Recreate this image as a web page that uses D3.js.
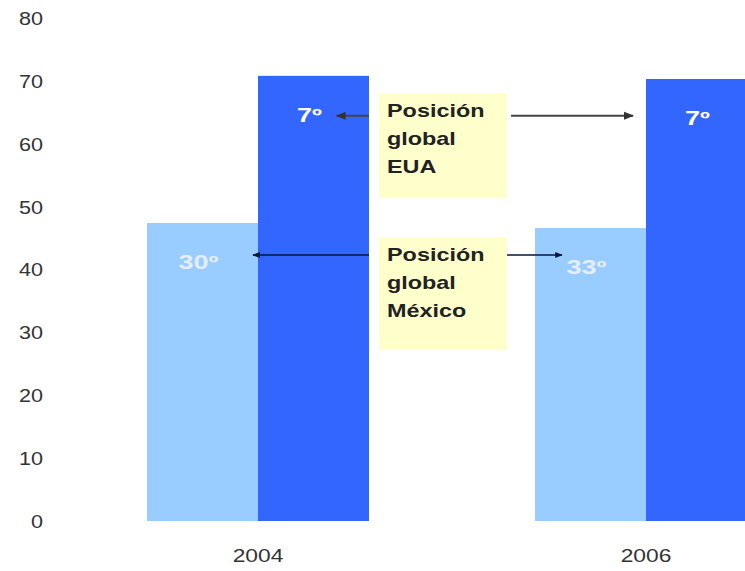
<!DOCTYPE html>
<html>
<head>
<meta charset="utf-8">
<script src="https://cdn.jsdelivr.net/npm/d3@7"></script>
<style>
  body { margin: 0; background: #fff; }
  svg { display: block; font-family: "Liberation Sans", Arial, sans-serif; }
</style>
</head>
<body>
<svg></svg>
<script>
// chart data
let years = ["2004", "2006"]
let series = ["México", "EUA"]
let mexicoValues = [47.4, 46.6]
let euaValues = [70.8, 70.3]
let rankLabels = [["30º", "7º"], ["33º", "7º"]]
let yTicks = [0, 10, 20, 30, 40, 50, 60, 70, 80]
let boxLines = [["Posición", "global", "EUA"], ["Posición", "global", "México"]]

let width = 745
let height = 571
let colors = ["#99ccff", "#3366ff"]

let svg = d3.select('svg').attr('width', width).attr('height', height)

let yScale = d3.scaleLinear().domain([0, 80]).range([521, 18])
let xScale = d3.scalePoint().domain(years).range([258, 646]) // centre of each year group
let inner = d3.scaleBand().domain(series).range([-111, 111])

// y tick labels only, no axis line
let yAxis = d3.axisLeft(yScale).tickValues(yTicks).tickSize(0).tickPadding(0)
let gy = svg.append('g').attr('transform', 'translate(43,0)').call(yAxis)
gy.select('.domain').remove()
gy.selectAll('text')
    .attr('font-size', 18)
    .attr('font-family', '"Liberation Sans", Arial, sans-serif')
    .attr('fill', '#333')
    .attr('x', 0)
    .attr('dy', '0.36em')
    .attr('transform', 'scale(1.2,1)') // the picture is stretched sideways

// bars
let rows = years.map((y, i) => ({year: y, vals: [mexicoValues[i], euaValues[i]], labels: rankLabels[i]}))

let groups = svg.selectAll('.year').data(rows).enter().append('g')
    .attr('transform', d => 'translate(' + xScale(d.year) + ',0)')

groups.selectAll('rect').data(d => d.vals.map((v, j) => ({s: series[j], v: v, j: j}))).enter()
    .append('rect')
    .attr('x', d => inner(d.s))
    .attr('y', d => yScale(d.v))
    .attr('width', inner.bandwidth())
    .attr('height', d => yScale(0) - yScale(d.v))
    .attr('fill', d => colors[d.j])

groups.selectAll('.rank').data(d => d.vals.map((v, j) => ({s: series[j], v: v, j: j, t: d.labels[j]}))).enter()
    .append('text')
    .attr('transform', d => 'translate(' + (inner(d.s) + inner.bandwidth() / 2 - 4) + ',' + (yScale(d.v) + 46) + ') scale(1.35,1)')
    .attr('text-anchor', 'middle')
    .attr('font-size', 20)
    .attr('font-weight', 'bold')
    .attr('fill', d => d.j == 0 ? '#e4eeff' : '#ffffff')
    .text(d => d.t)

// year labels
svg.selectAll('.yr').data(years).enter().append('text')
    .attr('transform', d => 'translate(' + xScale(d) + ',562) scale(1.2,1)')
    .attr('text-anchor', 'middle')
    .attr('font-size', 19)
    .attr('fill', '#333')
    .text(d => d)

// annotation boxes
let boxX = xScale(years[0]) + inner.bandwidth() + 10
let boxTops = [93, 237]
let boxH = [105, 113]

boxLines.forEach((lines, i) => {
    svg.append('rect')
        .attr('x', boxX).attr('y', boxTops[i])
        .attr('width', 128).attr('height', boxH[i])
        .attr('fill', '#ffffcc')
    lines.forEach((l, k) => {
        svg.append('text')
            .attr('transform', 'translate(' + (boxX + 8) + ',' + (boxTops[i] + 24 + k * 28) + ') scale(1.3,1)')
            .attr('font-size', 18)
            .attr('font-weight', 'bold')
            .attr('fill', '#222')
            .text(l)
    })
})

// arrows
let defs = svg.append('defs')
let addMarker = (id, col) => {
    defs.append('marker').attr('id', id)
        .attr('viewBox', '0 0 10 10').attr('refX', 9).attr('refY', 5)
        .attr('markerWidth', 5).attr('markerHeight', 5).attr('orient', 'auto')
        .append('path').attr('d', 'M0,1L10,5L0,9Z').attr('fill', col)
}
addMarker('ah1', '#333')
addMarker('ah2', '#0a1440')

let euaY = yScale(euaValues[0]) + 40
let mxY = yScale(mexicoValues[0]) + 32
let arrows = [
    {x1: boxX - 10, x2: xScale(years[0]) + inner.bandwidth() / 2 + 23, y: euaY, c: '#444', w: 2, m: 'ah1'},
    {x1: boxX + 132, x2: xScale(years[1]) - 13, y: euaY, c: '#444', w: 2, m: 'ah1'},
    {x1: boxX - 10, x2: xScale(years[0]) - 5, y: mxY, c: '#0a1440', w: 1.5, m: 'ah2'},
    {x1: boxX + 128, x2: xScale(years[1]) + inner(series[0]) + 27, y: mxY, c: '#0a1440', w: 1.5, m: 'ah2'}
]
svg.selectAll('.arr').data(arrows).enter().append('line')
    .attr('x1', d => d.x1).attr('x2', d => d.x2)
    .attr('y1', d => d.y).attr('y2', d => d.y)
    .attr('stroke', d => d.c).attr('stroke-width', d => d.w)
    .attr('marker-end', d => 'url(#' + d.m + ')')
</script>
</body>
</html>
